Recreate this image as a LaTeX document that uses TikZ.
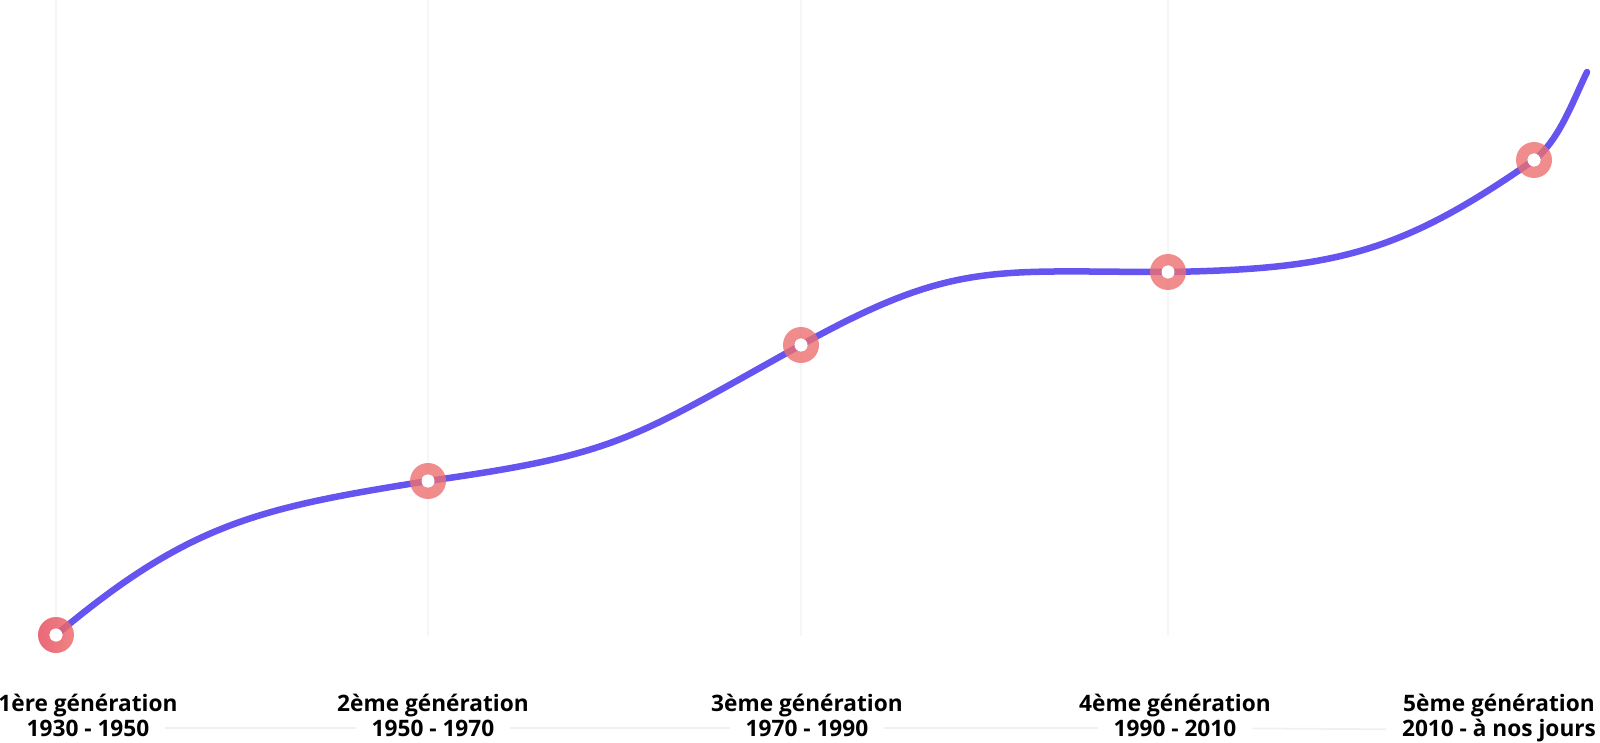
\documentclass[tikz,border=0pt]{standalone}
\usepackage{fontspec}
\setmainfont{Open Sans}
\usetikzlibrary{positioning}

\definecolor{courbeviolet}{RGB}{102,84,240}
\definecolor{saumon}{RGB}{236,111,111}
\definecolor{rougerose}{RGB}{230,78,96}
\definecolor{grille}{RGB}{246,246,246}
\definecolor{axegris}{RGB}{240,240,240}

\tikzset{
	courbe/.style={draw=courbeviolet, line width=3.7pt, line cap=round},
	repere/.style={draw=grille, line width=0.6pt},
	axe/.style={draw=axegris, line width=1pt, shorten <=7pt, shorten >=7pt},
	anneau/.style={fill=saumon, fill opacity=0.8, even odd rule},
	titre/.style={font=\fontsize{12.9}{15}\selectfont\bfseries, inner sep=2pt, anchor=base},
	annee/.style={font=\fontsize{12.9}{15}\selectfont\bfseries, inner sep=2pt, anchor=base}
}

\begin{document}
\begin{tikzpicture}[x=0.02cm, y=0.02cm]
	\useasboundingbox (0,0) rectangle (1600,-743);

	\coordinate (g1) at (56,-635);
	\coordinate (g2) at (428,-481);
	\coordinate (g3) at (801,-345);
	\coordinate (g4) at (1168,-272);
	\coordinate (g5) at (1534,-160);
	\coordinate (fin) at (1587,-72);

	\foreach \g in {g1,g2,g3,g4}
		\draw[repere] (\g |- 0,0) -- (\g |- 0,-636);

	\draw[courbe] (g1) to[out=40,in=-171,looseness=1.1] (g2)
		to[out=8,in=-151,looseness=1.25] (g3)
		to[out=29,in=180,looseness=1.2] (g4)
		to[out=1,in=-145,looseness=1.1] (g5)
		to[out=38,in=-116,looseness=0.8] (fin);

	\path[shade, left color=rougerose, right color=saumon, fill opacity=0.85, even odd rule]
		(g1) circle (18) (g1) circle (6.5);
	\fill[white] (g1) circle (6.5);
	\foreach \g in {g2,g3,g4,g5} {
		\fill[anneau] (\g) circle (18) (\g) circle (6.5);
		\fill[white] (\g) circle (6.5);
	}

	\node[titre] (n1) at (88,-711) {1ère génération};
	\node[annee] (a1) at (88,-736) {1930 - 1950};
	\node[titre] (n2) at (433,-711) {2ème génération};
	\node[annee] (a2) at (433,-736) {1950 - 1970};
	\node[titre] (n3) at (807,-711) {3ème génération};
	\node[annee] (a3) at (807,-736) {1970 - 1990};
	\node[titre] (n4) at (1175,-711) {4ème génération};
	\node[annee] (a4) at (1175,-736) {1990 - 2010};
	\node[titre] (n5) at (1499,-711) {5ème génération};
	\node[annee] (a5) at (1499,-736) {2010 - à nos jours};

	\draw[axe] (a1) -- (a2);
	\draw[axe] (a2) -- (a3);
	\draw[axe] (a3) -- (a4);
	\draw[axe] (a4) -- (a5);
\end{tikzpicture}
\end{document}
